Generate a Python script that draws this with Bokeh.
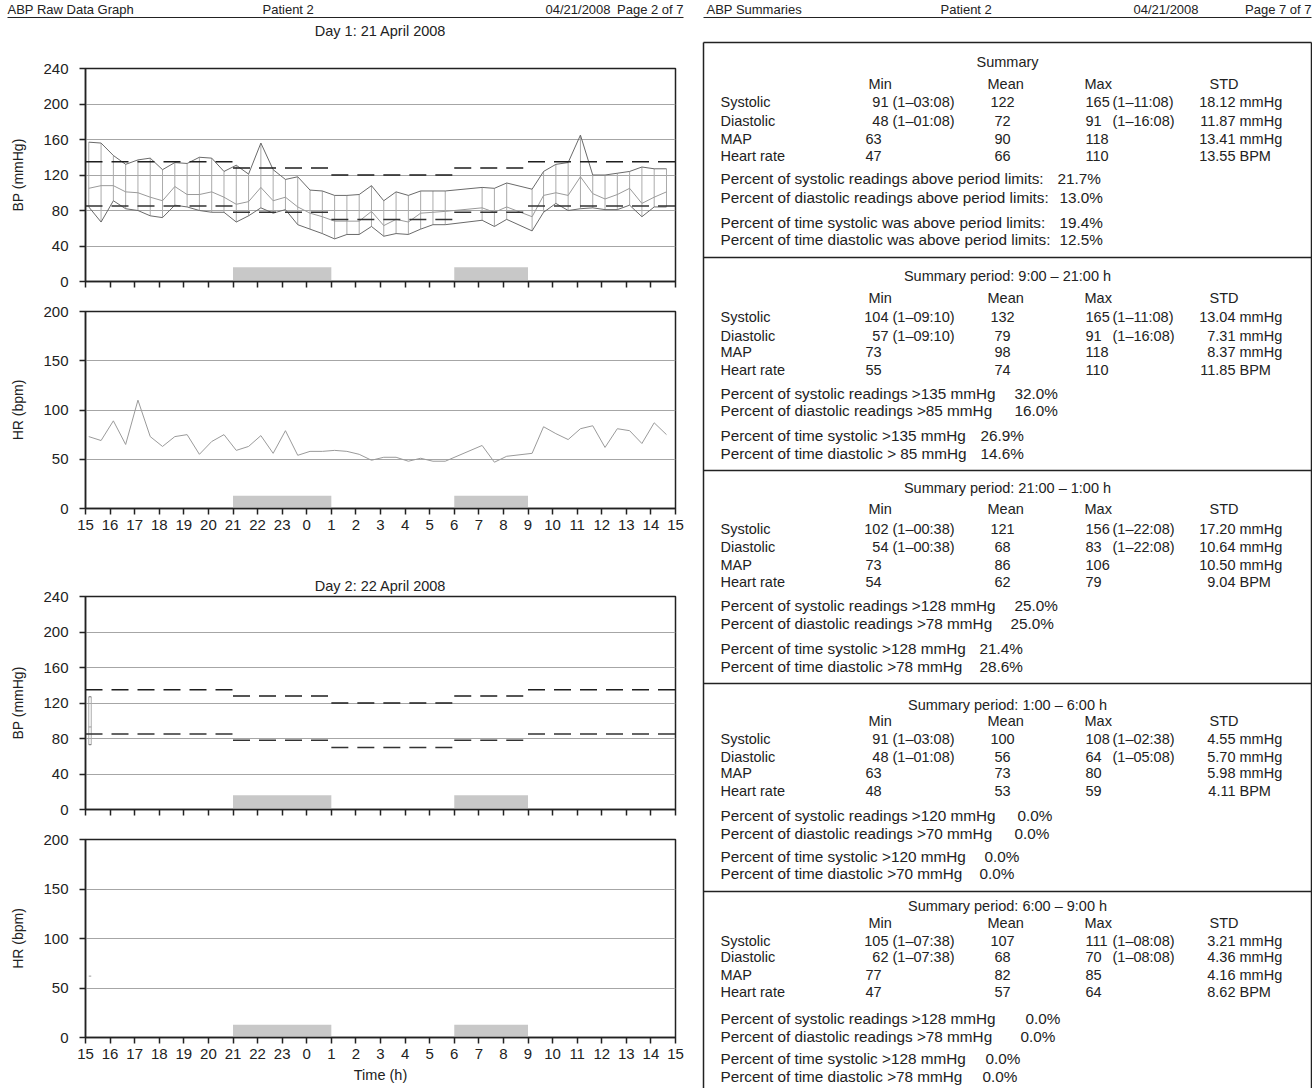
from bokeh.plotting import figure
from bokeh.models import Range1d, FixedTicker, Title
from bokeh.layouts import row, column
from bokeh.embed import file_html
from bokeh.resources import INLINE
from bokeh.core.properties import value

FONT = "Liberation Sans"
INK = "#222222"

# ------------------------------------------------------------------ data
day1_times = ["15:08", "15:38", "16:08", "16:38", "17:08", "17:38", "18:08", "18:38",
              "19:08", "19:38", "20:08", "20:38", "21:08", "21:38", "22:08", "22:38",
              "23:08", "23:38", "0:08", "0:38", "1:08", "1:38", "2:08", "2:38",
              "3:08", "3:38", "4:08", "4:38", "5:08", "5:38", "7:08", "7:38",
              "8:08", "9:10", "9:38", "10:08", "10:38", "11:08", "11:38", "12:08",
              "12:38", "13:08", "13:38", "14:08", "14:38"]
day1_sys = [157, 156, 142, 132, 137, 139, 126, 134, 133, 140, 139, 124, 131, 121, 156, 126,
            115, 118, 103, 102, 97, 97, 98, 108, 91, 101, 97, 102, 102, 102, 106, 105,
            111, 104, 124, 132, 134, 165, 120, 120, 122, 124, 129, 127, 127]
day1_map = [105, 108, 108, 101, 100, 95, 91, 107, 98, 98, 101, 95, 87, 90, 106, 91,
            95, 84, 77, 73, 68, 68, 68, 79, 63, 70, 67, 77, 78, 79, 83, 78,
            84, 73, 97, 100, 97, 118, 99, 93, 98, 105, 88, 95, 101]
day1_dia = [84, 67, 91, 82, 80, 74, 72, 86, 84, 80, 78, 78, 67, 74, 83, 77,
            81, 64, 59, 54, 48, 53, 53, 62, 51, 54, 53, 59, 64, 64, 69, 62,
            70, 57, 78, 88, 80, 82, 83, 81, 81, 86, 73, 84, 84]
day1_hr = [73, 69, 89, 65, 110, 73, 63, 73, 75, 55, 68, 75, 59, 63, 74, 56,
           79, 54, 58, 58, 59, 58, 55, 49, 52, 52, 48, 51, 48, 48, 64, 47,
           53, 56, 83, 76, 70, 81, 84, 62, 81, 79, 66, 87, 75]

day2_times = ["15:08", "15:14"]
day2_sys = [127, 127]
day2_map = [93, 93]
day2_dia = [73, 73]
day2_hr = [62, 62]

limit_starts = ["15:00", "21:00", "1:00", "6:00", "9:00"]
limit_ends = ["21:00", "1:00", "6:00", "9:00", "15:00"]
sys_limits = [135, 128, 120, 128, 135]
dia_limits = [85, 78, 70, 78, 85]

shade_starts = ["21:00", "6:00"]
shade_ends = ["1:00", "9:00"]

x_tick_labels = [15, 16, 17, 18, 19, 20, 21, 22, 23, 0, 1, 2, 3, 4, 5, 6, 7, 8, 9,
                 10, 11, 12, 13, 14, 15]
bp_ticks = [0, 40, 80, 120, 160, 200, 240]
hr_ticks = [0, 50, 100, 150, 200]

summary_titles = ["Summary", "Summary period: 9:00 – 21:00 h",
                  "Summary period: 21:00 – 1:00 h", "Summary period: 1:00 – 6:00 h",
                  "Summary period: 6:00 – 9:00 h"]
col_headers = ["Min", "Mean", "Max", "STD"]
row_labels = ["Systolic", "Diastolic", "MAP", "Heart rate"]
min_vals = [[91, 48, 63, 47], [104, 57, 73, 55], [102, 54, 73, 54], [91, 48, 63, 48],
            [105, 62, 77, 47]]
min_times = [["1–03:08", "1–01:08"], ["1–09:10", "1–09:10"], ["1–00:38", "1–00:38"],
             ["1–03:08", "1–01:08"], ["1–07:38", "1–07:38"]]
mean_vals = [[122, 72, 90, 66], [132, 79, 98, 74], [121, 68, 86, 62], [100, 56, 73, 53],
             [107, 68, 82, 57]]
max_vals = [[165, 91, 118, 110], [165, 91, 118, 110], [156, 83, 106, 79], [108, 64, 80, 59],
            [111, 70, 85, 64]]
max_times = [["1–11:08", "1–16:08"], ["1–11:08", "1–16:08"], ["1–22:08", "1–22:08"],
             ["1–02:38", "1–05:08"], ["1–08:08", "1–08:08"]]
std_vals = [["18.12", "11.87", "13.41", "13.55"], ["13.04", "7.31", "8.37", "11.85"],
            ["17.20", "10.64", "10.50", "9.04"], ["4.55", "5.70", "5.98", "4.11"],
            ["3.21", "4.36", "4.16", "8.62"]]
std_units = ["mmHg", "mmHg", "mmHg", "BPM"]
pct_labels = [
    ["Percent of systolic readings above period limits:",
     "Percent of diastolic readings above period limits:",
     "Percent of time systolic was above period limits:",
     "Percent of time diastolic was above period limits:"],
    ["Percent of systolic readings >135 mmHg", "Percent of diastolic readings >85 mmHg",
     "Percent of time systolic >135 mmHg", "Percent of time diastolic > 85 mmHg"],
    ["Percent of systolic readings >128 mmHg", "Percent of diastolic readings >78 mmHg",
     "Percent of time systolic >128 mmHg", "Percent of time diastolic >78 mmHg"],
    ["Percent of systolic readings >120 mmHg", "Percent of diastolic readings >70 mmHg",
     "Percent of time systolic >120 mmHg", "Percent of time diastolic >70 mmHg"],
    ["Percent of systolic readings >128 mmHg", "Percent of diastolic readings >78 mmHg",
     "Percent of time systolic >128 mmHg", "Percent of time diastolic >78 mmHg"],
]
pct_vals = [["21.7%", "13.0%", "19.4%", "12.5%"], ["32.0%", "16.0%", "26.9%", "14.6%"],
            ["25.0%", "25.0%", "21.4%", "28.6%"], ["0.0%", "0.0%", "0.0%", "0.0%"],
            ["0.0%", "0.0%", "0.0%", "0.0%"]]

left_header = ["ABP Raw Data Graph", "Patient 2", "04/21/2008", "Page 2 of 7"]
right_header = ["ABP Summaries", "Patient 2", "04/21/2008", "Page 7 of 7"]
day_titles = ["Day 1: 21 April 2008", "Day 2: 22 April 2008"]


# ------------------------------------------------------------------ helpers
def to_x(t, end=False):
    h, m = t.split(":")
    v = int(h) + int(m) / 60.0
    if v < 15 or (end and v <= 15):
        v += 24
    return v


x_tick_pos = [15 + i for i in range(len(x_tick_labels))]
x_overrides = {p: str(l) for p, l in zip(x_tick_pos, x_tick_labels)}

W, H = 1312, 1088
LW = 694
RW = W - LW
HDR = 40
FL, FR = 85, 19


def base_plot(height, top, bottom, yr):
    p = figure(width=LW, height=height, x_range=Range1d(15, 39), y_range=Range1d(0, yr),
               output_backend="svg", toolbar_location=None, title=None,
               min_border_left=FL, min_border_right=FR, min_border_top=top,
               min_border_bottom=bottom, background_fill_color="white",
               border_fill_color="white")
    p.xgrid.visible = False
    p.ygrid.grid_line_color = "#a6a6a6"
    p.ygrid.grid_line_width = 1
    p.outline_line_color = INK
    p.outline_line_width = 1.5
    p.xaxis.ticker = FixedTicker(ticks=x_tick_pos)
    p.xaxis.major_label_overrides = x_overrides
    for ax in p.axis:
        ax.axis_line_color = INK
        ax.axis_line_width = 1.5
        ax.major_tick_line_color = INK
        ax.major_tick_line_width = 1.5
        ax.major_tick_out = 6
        ax.major_tick_in = 0
        ax.minor_tick_line_color = None
        ax.major_label_text_font = FONT
        ax.major_label_text_font_size = "15px"
        ax.major_label_text_color = INK
        ax.axis_label_text_font = FONT
        ax.axis_label_text_font_style = "normal"
        ax.axis_label_text_font_size = "14px"
        ax.axis_label_text_color = INK
    p.yaxis.major_label_standoff = 11
    p.yaxis.axis_label_standoff = 14
    p.xaxis.major_label_standoff = 5
    return p


def bp_plot(height, top, bottom, times, sysv, mapv, diav):
    p = base_plot(height, top, bottom, 240)
    p.yaxis.ticker = FixedTicker(ticks=bp_ticks)
    p.ygrid.ticker = FixedTicker(ticks=bp_ticks)
    p.yaxis.axis_label = "BP (mmHg)"
    p.xaxis.major_label_text_font_size = "1px"
    p.xaxis.major_label_text_color = None
    p.xaxis.major_label_standoff = 0
    p.quad(left=[to_x(s) for s in shade_starts], right=[to_x(e, True) for e in shade_ends],
           bottom=0, top=16, fill_color="#c8c8c8", line_color=None)
    xs = [to_x(t) for t in times]
    p.segment(x0=xs, y0=diav, x1=xs, y1=sysv, line_color="#ababab", line_width=1)
    p.line(xs, mapv, line_color="#9a9a9a", line_width=1)
    p.line(xs, sysv, line_color="#6a6a6a", line_width=1)
    p.line(xs, diav, line_color="#6a6a6a", line_width=1)
    x0 = [to_x(s) for s in limit_starts]
    x1 = [to_x(e, True) for e in limit_ends]
    p.segment(x0=x0, y0=sys_limits, x1=x1, y1=sys_limits, line_color="#1e1e1e",
              line_width=1.5, line_dash="17 9")
    p.segment(x0=x0, y0=dia_limits, x1=x1, y1=dia_limits, line_color="#333333",
              line_width=1.5, line_dash="17 9")
    return p


def hr_plot(height, top, bottom, times, hrv):
    p = base_plot(height, top, bottom, 200)
    p.yaxis.ticker = FixedTicker(ticks=hr_ticks)
    p.ygrid.ticker = FixedTicker(ticks=hr_ticks)
    p.yaxis.axis_label = "HR (bpm)"
    p.quad(left=[to_x(s) for s in shade_starts], right=[to_x(e, True) for e in shade_ends],
           bottom=0, top=13, fill_color="#c8c8c8", line_color=None)
    p.line([to_x(t) for t in times], hrv, line_color="#9a9a9a", line_width=1)
    return p


def text_fig(w, h, x0, y0):
    """figure whose data coordinates equal page pixel coordinates"""
    p = figure(width=w, height=h, x_range=Range1d(x0, x0 + w), y_range=Range1d(y0 + h, y0),
               output_backend="svg", toolbar_location=None, title=None,
               x_axis_type=None, y_axis_type=None, min_border=0,
               background_fill_color="white", border_fill_color="white")
    p.grid.visible = False
    p.outline_line_color = None
    return p


def put(p, x, y, txt, align="left", size="14.5px"):
    p.text(x=[x], y=[y], text=[txt], text_font=value(FONT), text_font_size=size,
           text_align=align, text_baseline="middle", text_color=INK)


# ------------------------------------------------------------------ page header
hdr = text_fig(W, HDR, 0, 0)
for x, t, a in zip([7, 262, 545, 683], left_header, ["left", "left", "left", "right"]):
    put(hdr, x, 9, t, align=a, size="13px")
for x, t, a in zip([706, 940, 1133, 1311], right_header, ["left", "left", "left", "right"]):
    put(hdr, x, 9, t, align=a, size="13px")
hdr.segment(x0=[7, 703], y0=[17, 17], x1=[683, 1311], y1=[17, 17], line_color=INK,
            line_width=1.2)
put(hdr, FL + (LW - FL - FR) / 2, 30, day_titles[0], align="center")

# ------------------------------------------------------------------ left column
bp1 = bp_plot(261, 28, 20, day1_times, day1_sys, day1_map, day1_dia)
hr1 = hr_plot(259, 10, 52, day1_times, day1_hr)

bp2 = bp_plot(269, 36, 20, day2_times, day2_sys, day2_map, day2_dia)
bp2.add_layout(Title(text=day_titles[1], align="center", text_font=FONT,
                     text_font_size="14.5px", text_font_style="normal",
                     text_color=INK, standoff=6), "above")

hr2 = hr_plot(259, 10, 51, day2_times, day2_hr)
hr2.xaxis.axis_label = "Time (h)"
hr2.xaxis.axis_label_standoff = 5
hr2.xaxis.axis_label_text_font_size = "14.5px"

left = column(bp1, hr1, bp2, hr2, spacing=0)

# ------------------------------------------------------------------ right column
rp = text_fig(RW, H - HDR, LW, HDR)

box_tops = [42, 257, 470, 683, 891]
box_rows = [
    [61.7, 83.3, 101.7, 120, 138.3, 155, 178.3, 196.7, 221.7, 239.3],
    [275.7, 297.7, 316.7, 335, 351.7, 369.3, 393.3, 410, 435, 453.3],
    [487.7, 508.3, 528.3, 546.7, 564.3, 581.7, 605, 623.3, 647.7, 665.7],
    [704, 720, 738.3, 756, 772.7, 790, 815, 833.3, 856, 873.3],
    [905, 922.5, 940, 956.7, 974.5, 991.7, 1017.5, 1035.5, 1058, 1076],
]
pct_x = [[1057, 1059, 1059, 1059], [1014, 1014, 980, 980], [1014, 1010, 979, 979],
         [1017, 1014, 984, 979], [1025, 1020, 985, 982]]
BL, BR = 703, 1311
rp.segment(x0=[BL, BR], y0=[box_tops[0], box_tops[0]], x1=[BL, BR], y1=[H, H],
           line_color=INK, line_width=1.5)
rp.segment(x0=[BL] * 5, y0=box_tops, x1=[BR] * 5, y1=box_tops, line_color=INK,
           line_width=1.5)

for b in range(5):
    ys = box_rows[b]
    put(rp, 1007, ys[0], summary_titles[b], align="center")
    for hx, htxt in zip([868, 987, 1084, 1209], col_headers):
        put(rp, hx, ys[1], htxt)
    for r in range(4):
        y = ys[2 + r]
        put(rp, 720, y, row_labels[r])
        if r < 2:
            put(rp, 888, y, str(min_vals[b][r]), align="right")
            put(rp, 892, y, "(" + min_times[b][r] + ")")
            put(rp, 1085, y, str(max_vals[b][r]))
            put(rp, 1112, y, "(" + max_times[b][r] + ")")
        else:
            put(rp, 865, y, str(min_vals[b][r]))
            put(rp, 1085, y, str(max_vals[b][r]))
        put(rp, 1002, y, str(mean_vals[b][r]), align="center")
        put(rp, 1235, y, std_vals[b][r], align="right")
        put(rp, 1239, y, std_units[r])
    for k in range(4):
        y = ys[6 + k]
        put(rp, 720, y, pct_labels[b][k], size="15.3px")
        put(rp, pct_x[b][k], y, pct_vals[b][k], size="15.3px")

layout = column(hdr, row(left, rp, spacing=0), spacing=0)

with open("out.html", "w") as f:
    f.write(file_html(layout, INLINE))
